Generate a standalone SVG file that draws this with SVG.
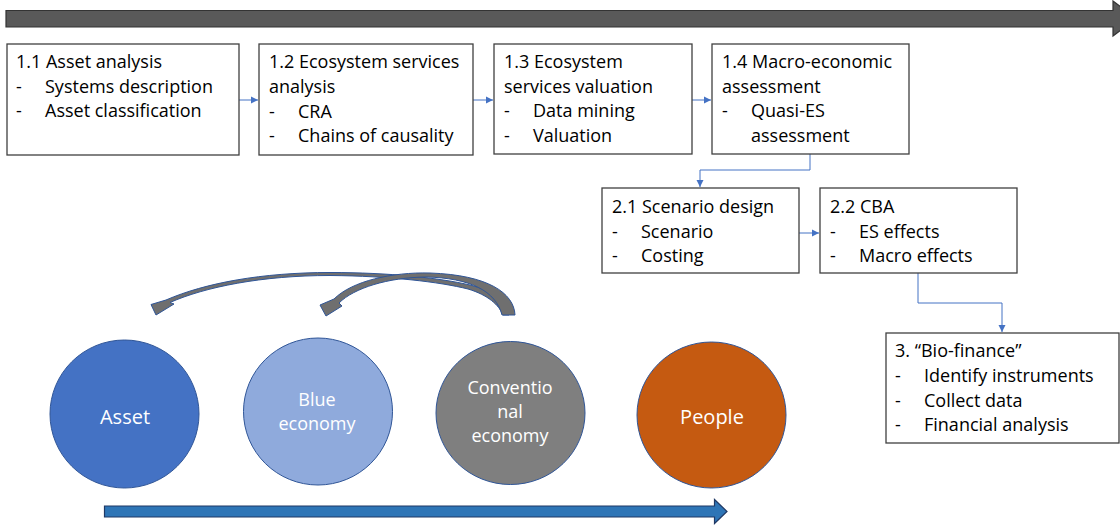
<svg xmlns="http://www.w3.org/2000/svg" width="1120" height="525" viewBox="0 0 1120 525">
<style>
.box{fill:#fff;stroke:#404040;stroke-width:1.3}
.t{font-family:"Open Sans","Liberation Sans",sans-serif;font-size:18px;fill:#000}
.ct{font-family:"Open Sans","Liberation Sans",sans-serif;fill:#fff;text-anchor:middle}
.conn{fill:none;stroke:#4472C4;stroke-width:1}
.curve{fill:#6f6f6f;stroke:#2F5597;stroke-width:1;stroke-linejoin:round}
</style>
<defs>
<marker id="ah" markerWidth="8" markerHeight="8" refX="7" refY="4" orient="auto" markerUnits="userSpaceOnUse">
<path d="M0,0.5 L7,4 L0,7.5 Z" fill="#4472C4"/>
</marker>
</defs>
<rect width="1120" height="525" fill="#fff"/>
<g id="top-arrow">
<path d="M6,10.5 L1113,10.5 L1113,1 L1136,18.5 L1113,36 L1113,27 L6,27 Z" fill="#595959" stroke="#333" stroke-width="1.2"/>
</g>
<g id="connectors">
<path class="conn" d="M239,100 L258,100" marker-end="url(#ah)"/>
<path class="conn" d="M473,100 L493,100" marker-end="url(#ah)"/>
<path class="conn" d="M692,100 L711,100" marker-end="url(#ah)"/>
<path class="conn" d="M810,154 L810,170 L700,170 L700,187" marker-end="url(#ah)"/>
<path class="conn" d="M799,233 L819,233" marker-end="url(#ah)"/>
<path class="conn" d="M918,273 L918,303 L1002,303 L1002,332" marker-end="url(#ah)"/>
</g>
<g id="n11">
<rect class="box" x="7" y="44" width="232" height="111"/>
<text class="t" x="16" y="68">1.1 Asset analysis</text>
<text class="t" x="16" y="93">-</text><text class="t" x="45" y="93">Systems description</text>
<text class="t" x="16" y="117">-</text><text class="t" x="45" y="117">Asset classification</text>
</g>
<g id="n12">
<rect class="box" x="259" y="44" width="214" height="111"/>
<text class="t" x="269" y="68">1.2 Ecosystem services</text>
<text class="t" x="269" y="93">analysis</text>
<text class="t" x="269" y="118">-</text><text class="t" x="298" y="118">CRA</text>
<text class="t" x="269" y="142">-</text><text class="t" x="298" y="142">Chains of causality</text>
</g>
<g id="n13">
<rect class="box" x="494" y="44" width="198" height="110"/>
<text class="t" x="504" y="68">1.3 Ecosystem</text>
<text class="t" x="504" y="92.5">services valuation</text>
<text class="t" x="504" y="117">-</text><text class="t" x="533" y="117">Data mining</text>
<text class="t" x="504" y="142">-</text><text class="t" x="533" y="142">Valuation</text>
</g>
<g id="n14">
<rect class="box" x="712" y="44" width="197" height="110"/>
<text class="t" x="722" y="68">1.4 Macro-economic</text>
<text class="t" x="722" y="92.5">assessment</text>
<text class="t" x="722" y="117">-</text><text class="t" x="751" y="117">Quasi-ES</text>
<text class="t" x="751" y="142">assessment</text>
</g>
<g id="n21">
<rect class="box" x="602" y="188" width="197" height="85"/>
<text class="t" x="612" y="212.5">2.1 Scenario design</text>
<text class="t" x="612" y="238">-</text><text class="t" x="641" y="238">Scenario</text>
<text class="t" x="612" y="262">-</text><text class="t" x="641" y="262">Costing</text>
</g>
<g id="n22">
<rect class="box" x="820" y="188" width="197" height="85"/>
<text class="t" x="830" y="212.5">2.2 CBA</text>
<text class="t" x="830" y="238">-</text><text class="t" x="859" y="238">ES effects</text>
<text class="t" x="830" y="262">-</text><text class="t" x="859" y="262">Macro effects</text>
</g>
<g id="n3">
<rect class="box" x="886" y="333" width="233" height="110"/>
<text class="t" x="895" y="356.5">3. “Bio-finance”</text>
<text class="t" x="895" y="382">-</text><text class="t" x="924" y="382">Identify instruments</text>
<text class="t" x="895" y="407">-</text><text class="t" x="924" y="407">Collect data</text>
<text class="t" x="895" y="431">-</text><text class="t" x="924" y="431">Financial analysis</text>
</g>
<g id="curved-arrows">
<path class="curve" d="M509,315 C505,300 490,290 470,285 C440,278 390,272.5 330,272.5 C262,272.5 205,283 166,300 L151,304.5 L156,315 L174,304 L170,302.5 C205,287 262,275.5 330,275.5 C390,276 440,282 468,289 C488,295 499,305 503,315 Z"/>
<path class="curve" d="M515,315 C514,293 488,275 430,273 C392,272 352,281 334,299 L320,305 L326,316 L342,306 L339,303 C354,288 388,277.5 426,277 C470,278 496,291 502,315 Z"/>
</g>
<g id="asset">
<ellipse cx="124.5" cy="414" rx="74.5" ry="74" fill="#4472C4" stroke="#2F5597" stroke-width="1"/>
<text class="ct" x="125" y="424" font-size="20">Asset</text>
</g>
<g id="blue-economy">
<ellipse cx="318" cy="411.5" rx="74.5" ry="73.5" fill="#8FAADC" stroke="#2F5597" stroke-width="1"/>
<text class="ct" x="317" y="406" font-size="18">Blue</text>
<text class="ct" x="317" y="430" font-size="18">economy</text>
</g>
<g id="conventional-economy">
<ellipse cx="510.5" cy="413" rx="74.5" ry="71.5" fill="#7F7F7F" stroke="#2F5597" stroke-width="1"/>
<text class="ct" x="510" y="394" font-size="18">Conventio</text>
<text class="ct" x="510" y="418" font-size="18">nal</text>
<text class="ct" x="510" y="442" font-size="18">economy</text>
</g>
<g id="people">
<ellipse cx="711.5" cy="415" rx="74.5" ry="73" fill="#C55A11" stroke="#2F5597" stroke-width="1"/>
<text class="ct" x="712" y="424" font-size="20">People</text>
</g>
<g id="bottom-arrow">
<path d="M104.5,506 L714.5,506 L714.5,499.5 L727,511.5 L714.5,523.5 L714.5,517 L104.5,517 Z" fill="#2E75B6" stroke="#1F3864" stroke-width="1.2"/>
</g>
</svg>
